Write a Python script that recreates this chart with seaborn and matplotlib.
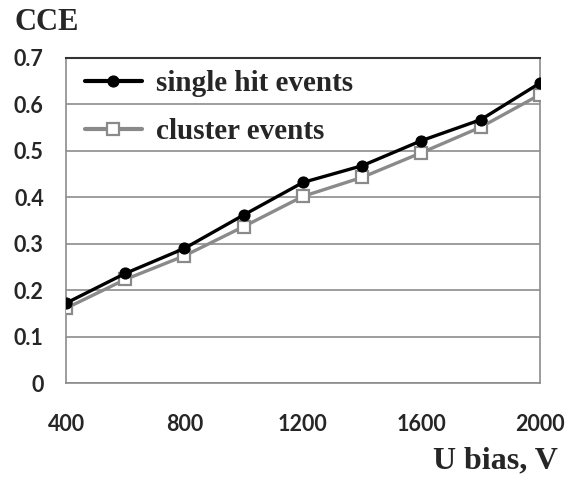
import matplotlib
matplotlib.use('Agg')
import matplotlib.pyplot as plt
import seaborn as sns
import pandas as pd

# Data
u_bias = [400, 600, 800, 1000, 1200, 1400, 1600, 1800, 2000]
single_hit = [0.172, 0.236, 0.290, 0.362, 0.432, 0.468, 0.522, 0.567, 0.646]
cluster = [0.161, 0.223, 0.274, 0.337, 0.402, 0.443, 0.496, 0.551, 0.621]
x_ticks = [400, 800, 1200, 1600, 2000]
y_ticks = [0, 0.1, 0.2, 0.3, 0.4, 0.5, 0.6, 0.7]

df = pd.DataFrame({'U': u_bias, 'single': single_hit, 'cluster': cluster})

sns.set_style('white')
fig = plt.figure(figsize=(5.71, 4.78), dpi=100)
ax = fig.add_axes([0.1156, 0.1987, 0.83, 0.68])

sns.lineplot(data=df, x='U', y='single', ax=ax, color='black', lw=2.4,
             marker='o', markersize=8, markeredgecolor='black',
             label='single hit events', zorder=4)
sns.lineplot(data=df, x='U', y='cluster', ax=ax, color='#8a8a8a', lw=2.4,
             marker='s', markersize=8, markerfacecolor='white',
             markeredgecolor='#8a8a8a', markeredgewidth=1.6,
             label='cluster events', zorder=3)

ax.set_xlim(400, 2000)
ax.set_ylim(0, 0.7)
ax.set_xticks(x_ticks)
ax.set_yticks(y_ticks)
ax.set_yticklabels(['0' if v == 0 else f'{v:.1f}' for v in y_ticks])
ax.yaxis.grid(True, color='#8c8c8c', lw=1.2)
ax.set_axisbelow(True)
for s in ax.spines.values():
    s.set_color('#8c8c8c')
    s.set_linewidth(1.2)
ax.spines['top'].set_color('#333333')
ax.spines['top'].set_linewidth(1.5)

ax.tick_params(axis='both', direction='out', width=1.2, color='#8c8c8c', labelsize=15.5)
ax.tick_params(axis='x', length=7, pad=15)
ax.tick_params(axis='y', length=6, pad=10)
for lab in ax.get_xticklabels() + ax.get_yticklabels():
    lab.set_fontfamily('Lato')
    lab.set_fontweight('bold')

ax.set_xlabel('')
ax.set_ylabel('')
fig.text(15 / 571, 1 - 22 / 478, 'CCE', fontsize=22, fontweight='bold',
         family='Liberation Serif', ha='left', va='center')
fig.text(558 / 571, 1 - 461 / 478, 'U bias, V', fontsize=23, fontweight='bold',
         family='Liberation Serif', ha='right', va='center')

leg = ax.legend(loc='upper left', frameon=False, handlelength=1.95, handletextpad=0.5,
                prop={'family': 'Liberation Serif', 'weight': 'bold', 'size': 21},
                borderaxespad=0, borderpad=0, labelspacing=0.72,
                bbox_to_anchor=(0.04, 0.963))
for h in leg.legend_handles:
    h.set_linewidth(3)

fig.savefig('out.png', dpi=100)
